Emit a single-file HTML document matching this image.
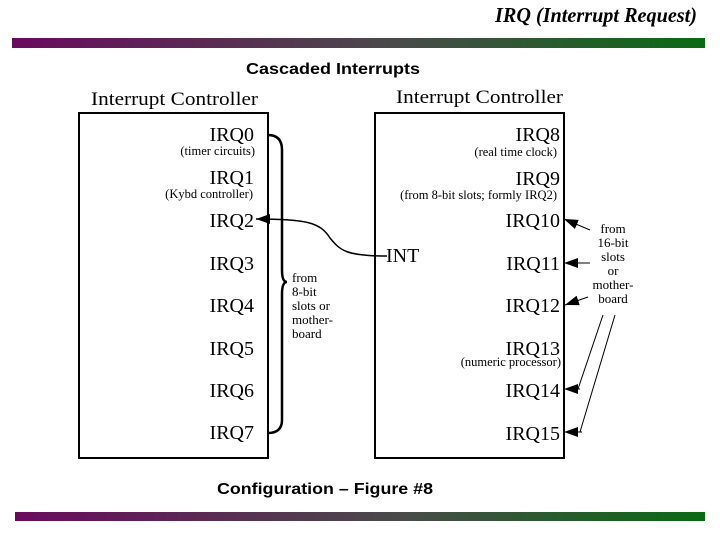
<!DOCTYPE html>
<html><head><meta charset="utf-8"><style>
html,body{margin:0;padding:0;background:#fff;}
body{width:720px;height:540px;position:relative;overflow:hidden;}
</style></head><body>
<svg width="720" height="540" xmlns="http://www.w3.org/2000/svg" style="position:absolute;left:0;top:0">
<defs>
<linearGradient id="g" x1="0" x2="1" y1="0" y2="0">
<stop offset="0" stop-color="#6a0a5e"/><stop offset="0.55" stop-color="#4a4a4a"/><stop offset="1" stop-color="#0a6a14"/>
</linearGradient>
<marker id="ah" viewBox="0 0 14 10" refX="14" refY="5" markerWidth="14" markerHeight="10" markerUnits="userSpaceOnUse" orient="auto"><path d="M0,0 L14,5 L0,10 z" fill="#000"/></marker>
</defs>
<text x="697" y="22" text-anchor="end" font-family="Liberation Serif" font-style="italic" font-weight="bold" font-size="21" textLength="202" lengthAdjust="spacingAndGlyphs">IRQ (Interrupt Request)</text>
<rect x="12" y="38" width="693" height="10" fill="url(#g)"/>
<rect x="15" y="512" width="690" height="9" fill="url(#g)"/>
<text x="333" y="74" text-anchor="middle" font-family="Liberation Sans" font-weight="bold" font-size="16" textLength="174" lengthAdjust="spacingAndGlyphs">Cascaded Interrupts</text>
<text x="217" y="494" font-family="Liberation Sans" font-weight="bold" font-size="16" textLength="216" lengthAdjust="spacingAndGlyphs">Configuration – Figure #8</text>
<g font-family="Liberation Serif">
<text x="91" y="105" font-size="19" textLength="167" lengthAdjust="spacingAndGlyphs">Interrupt Controller</text>
<text x="396" y="103" font-size="19" textLength="167" lengthAdjust="spacingAndGlyphs">Interrupt Controller</text>
<rect x="79" y="113" width="189" height="345" fill="none" stroke="#000" stroke-width="2"/>
<rect x="375" y="113" width="189" height="345" fill="none" stroke="#000" stroke-width="2"/>
<g font-size="20" text-anchor="end">
<text x="254" y="141">IRQ0</text><text x="254" y="184">IRQ1</text><text x="254" y="227">IRQ2</text>
<text x="254" y="270">IRQ3</text><text x="254" y="312">IRQ4</text><text x="254" y="355">IRQ5</text>
<text x="254" y="397">IRQ6</text><text x="254" y="439">IRQ7</text>
<text x="560" y="141">IRQ8</text><text x="560" y="185">IRQ9</text><text x="560" y="227">IRQ10</text>
<text x="560" y="270">IRQ11</text><text x="560" y="312">IRQ12</text><text x="560" y="355">IRQ13</text>
<text x="560" y="397">IRQ14</text><text x="560" y="440">IRQ15</text>
</g>
<g font-size="12.5" text-anchor="end">
<text x="255" y="155">(timer circuits)</text><text x="253" y="198">(Kybd controller)</text>
<text x="557" y="156">(real time clock)</text><text x="557" y="199">(from 8-bit slots; formly IRQ2)</text>
<text x="561" y="366">(numeric processor)</text>
</g>
<text x="386" y="262" font-size="20">INT</text>
<g font-size="13">
<text x="292" y="282">from</text><text x="292" y="296">8-bit</text><text x="292" y="310">slots or</text><text x="292" y="324">mother-</text><text x="292" y="338">board</text>
</g>
<g font-size="13" text-anchor="middle">
<text x="613" y="233">from</text><text x="613" y="247">16-bit</text><text x="613" y="261">slots</text><text x="613" y="275">or</text><text x="613" y="289">mother-</text><text x="613" y="303">board</text>
</g>
</g>
<g fill="none" stroke="#000">
<path d="M268,135 Q282,135 282,150 L282,270 Q282,282 287,282 Q282,282 282,294 L282,420 Q282,433 268,433" stroke-width="2.5"/>
<path d="M387,256 C345,256 340,250 330,238 C320,222 305,219 256,219" stroke-width="1.5" marker-end="url(#ah)"/>
<path d="M590,230 L564,219" stroke-width="1" marker-end="url(#ah)"/>
<path d="M590,263 L564,263" stroke-width="1" marker-end="url(#ah)"/>
<path d="M588,297 L565,305" stroke-width="1" marker-end="url(#ah)"/>
<path d="M603,315 L578,389" stroke-width="1"/>
<path d="M615,315 L580,432" stroke-width="1"/>
<path d="M580,389 L564,389" stroke-width="1" marker-end="url(#ah)"/>
<path d="M582,432 L564,432" stroke-width="1" marker-end="url(#ah)"/>
</g>
</svg>
</body></html>
